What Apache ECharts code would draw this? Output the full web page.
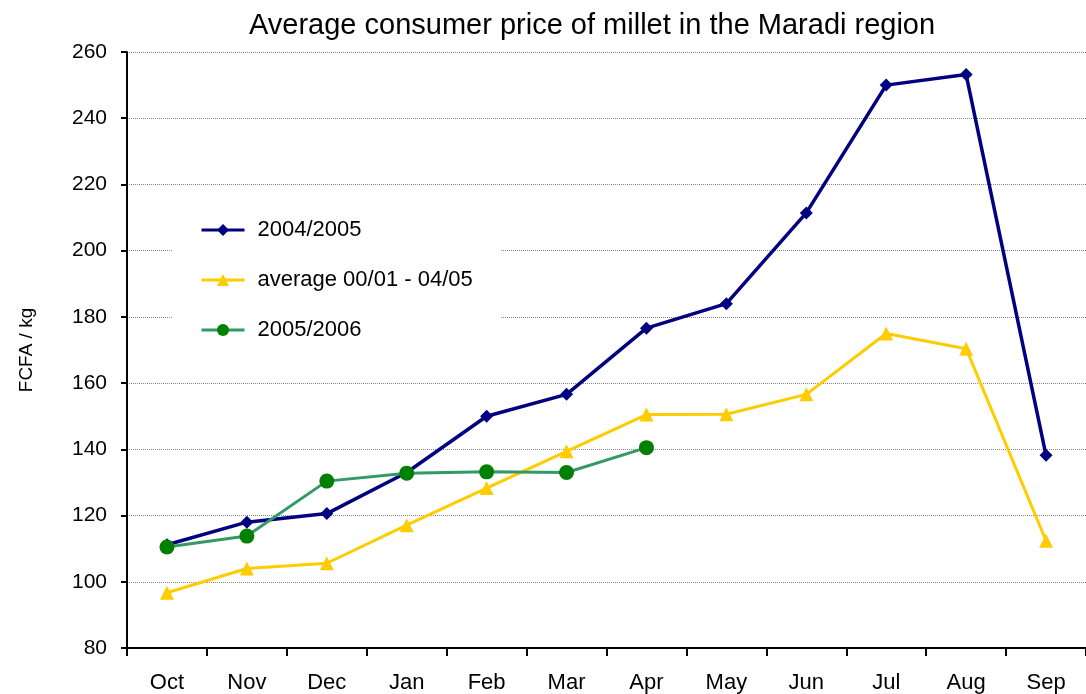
<!DOCTYPE html>
<html>
<head>
<meta charset="utf-8">
<script src="https://cdn.jsdelivr.net/npm/echarts@6/dist/echarts.min.js"></script>
<style>
  html, body { margin: 0; padding: 0; background: #fff; }
  #chart { width: 1086px; height: 694px; }
</style>
</head>
<body>
<div id="chart"></div>
<script>
const months = ["Oct", "Nov", "Dec", "Jan", "Feb", "Mar", "Apr", "May", "Jun", "Jul", "Aug", "Sep"];
const season0405 = [111.2, 118, 120.6, 133, 150, 156.6, 176.6, 184, 211.4, 250, 253.2, 138.2];
const average = [96.7, 104, 105.6, 117.1, 128.3, 139.4, 150.5, 150.6, 156.6, 175, 170.4, 112.4];
const season0506 = [110.5, 113.8, 130.4, 132.8, 133.2, 133, 140.5];
const yTicks = { min: 80, max: 260, step: 20 };

const font = "Liberation Sans, Arial, sans-serif";
const chart = echarts.init(document.getElementById("chart"), null, { renderer: "canvas" });

chart.setOption({
  animation: false,
  backgroundColor: "#ffffff",
  title: {
    text: "Average consumer price of millet in the Maradi region",
    left: 244,
    top: 6,
    textStyle: { fontFamily: font, fontSize: 29, fontWeight: "normal", color: "#000" },
  },
  grid: { left: 127, right: -6, top: 52, bottom: 46 },
  legend: {
    orient: "vertical",
    left: 172,
    top: 197,
    padding: [22, 28],
    itemGap: 28,
    itemWidth: 43,
    itemHeight: 15,
    backgroundColor: "#ffffff",
    lineStyle: { width: 3 },
    textStyle: { fontFamily: font, fontSize: 22, color: "#000", padding: [0, 0, 0, 8] },
    data: ["2004/2005", "average 00/01 - 04/05", "2005/2006"],
  },
  xAxis: {
    type: "category",
    data: months,
    axisLine: { lineStyle: { color: "#000", width: 2 } },
    axisTick: { show: true, interval: 0, length: 8, lineStyle: { color: "#000", width: 2 } },
    axisLabel: { color: "#000", fontFamily: font, fontSize: 22, margin: 24, interval: 0 },
  },
  yAxis: {
    type: "value",
    min: yTicks.min,
    max: yTicks.max,
    interval: yTicks.step,
    name: "FCFA / kg",
    nameLocation: "middle",
    nameGap: 91,
    nameTextStyle: { fontFamily: font, fontSize: 19, color: "#000" },
    axisLine: { show: true, lineStyle: { color: "#000", width: 2 } },
    axisTick: { show: true, length: 6, lineStyle: { color: "#000", width: 2 } },
    axisLabel: { color: "#000", fontFamily: font, fontSize: 21, margin: 20 },
    splitLine: { lineStyle: { color: "#888", width: 1, type: [1, 1] } },
  },
  series: [
    {
      name: "2004/2005",
      type: "line",
      data: season0405,
      symbol: "diamond",
      symbolSize: 13,
      lineStyle: { color: "#000080", width: 3.5 },
      itemStyle: { color: "#000080" },
      z: 3,
    },
    {
      name: "average 00/01 - 04/05",
      type: "line",
      data: average,
      symbol: "triangle",
      symbolSize: 14,
      lineStyle: { color: "#FFCC00", width: 3 },
      itemStyle: { color: "#FFCC00" },
      z: 2,
    },
    {
      name: "2005/2006",
      type: "line",
      data: season0506,
      symbol: "circle",
      symbolSize: 15,
      lineStyle: { color: "#339966", width: 3 },
      itemStyle: { color: "#008000" },
      z: 4,
    },
  ],
});
</script>
</body>
</html>
